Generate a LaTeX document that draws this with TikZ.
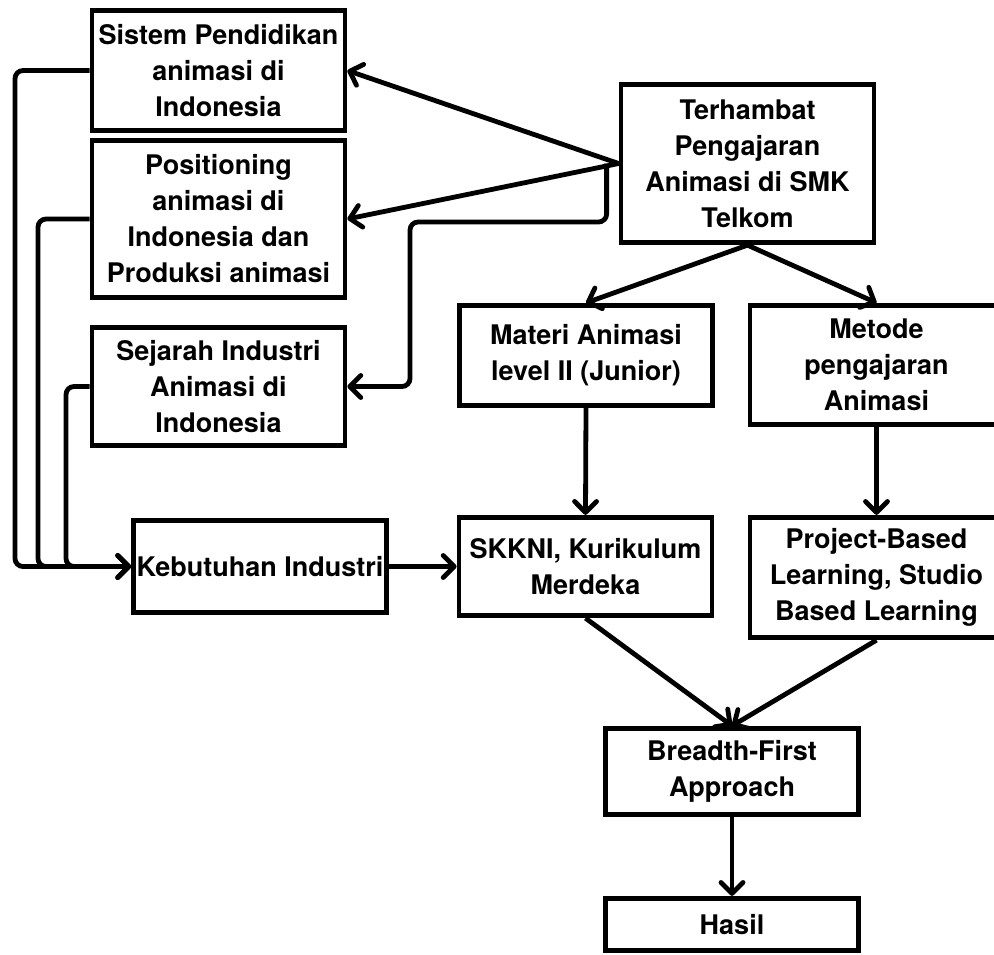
\documentclass[tikz,border=0pt]{standalone}
\usepackage{fontspec}
\setmainfont{TeX Gyre Heros}
\usetikzlibrary{
    arrows.meta,
    calc,
    positioning
}
\tikzset{
  every path/.style={
    black,
    line width=4.8pt
  },
  box/.style={
    draw,
    rectangle,
    minimum width=253pt,
    align=center,
    inner sep=2pt,
    font=\fontsize{27}{36}\selectfont\bfseries
  },
  arr/.style={
    -{Straight Barb[length=11pt,width=22pt,round]}
  }
}

\begin{document}
\begin{tikzpicture}[x=1pt,y=-1pt]

    % 範囲
    \useasboundingbox (0,0) rectangle (994,954);

    % 左の列
    \node[box,minimum height=120.5pt] (sistem) at (218.5,70.5)
        {Sistem Pendidikan\\animasi di\\Indonesia};
    \node[box,minimum height=157.5pt] (positioning) at (218.5,219)
        {Positioning\\animasi di\\Indonesia dan\\Produksi animasi};
    \node[box,minimum height=118.5pt] (sejarah) at (218.5,386.5)
        {Sejarah Industri\\Animasi di\\Indonesia};
    \node[box,minimum height=92.5pt] (kebutuhan) at (260,566.5)
        {Kebutuhan Industri};

    % 右の列
    \node[box,minimum height=158.5pt] (terhambat) at (747.5,163.5)
        {Terhambat\\Pengajaran\\Animasi di SMK\\Telkom};
    \node[box,minimum height=100.5pt] (materi) at (586,355.5)
        {Materi Animasi\\level II (Junior)};
    \node[box,minimum height=119.5pt] (metode) at (876.5,365)
        {Metode\\pengajaran\\Animasi};
    \node[box,minimum height=98.5pt] (skkni) at (585.5,566.5)
        {SKKNI, Kurikulum\\Merdeka};
    \node[box,minimum height=120.5pt] (project) at (876.5,577.5)
        {Project-Based\\Learning, Studio\\Based Learning};
    \node[box,minimum height=86.5pt] (breadth) at (732,771.5)
        {Breadth-First\\Approach};
    \node[box,minimum height=52.5pt] (hasil) at (732,924.5)
        {Hasil};

    % 補助点
    \coordinate (split) at ($(terhambat.west)+(-12,0)$);
    \coordinate (bend) at (410,222);
    \coordinate (railA) at (15,0);
    \coordinate (railB) at (38,0);
    \coordinate (railC) at (66,0);

    % 矢印
    \draw[arr] (terhambat.west) -- (sistem.east);
    \draw[arr] (terhambat.west) -- (positioning.east);
    \draw[arr,rounded corners=8pt] (split) |- (bend) |- (sejarah.east);

    \draw[arr] (terhambat.south) -- (materi.north);
    \draw[arr] (terhambat.south) -- (metode.north);
    \draw[arr] (materi.south) -- (skkni.north);
    \draw[arr] (metode.south) -- (project.north);
    \draw[arr] (kebutuhan.east) -- (skkni.west);
    \draw[arr] (skkni.south) -- (breadth.north);
    \draw[arr] (project.south) -- (breadth.north);
    \draw[arr] (breadth.south) -- (hasil.north);

    % 左の線
    \draw[arr,rounded corners=8pt] (sistem.west) -| (railA |- kebutuhan.west) -- (kebutuhan.west);
    \draw[arr,rounded corners=8pt] (positioning.west) -| (railB |- kebutuhan.west) -- (kebutuhan.west);
    \draw[arr,rounded corners=8pt] (sejarah.west) -| (railC |- kebutuhan.west) -- (kebutuhan.west);

\end{tikzpicture}
\end{document}
